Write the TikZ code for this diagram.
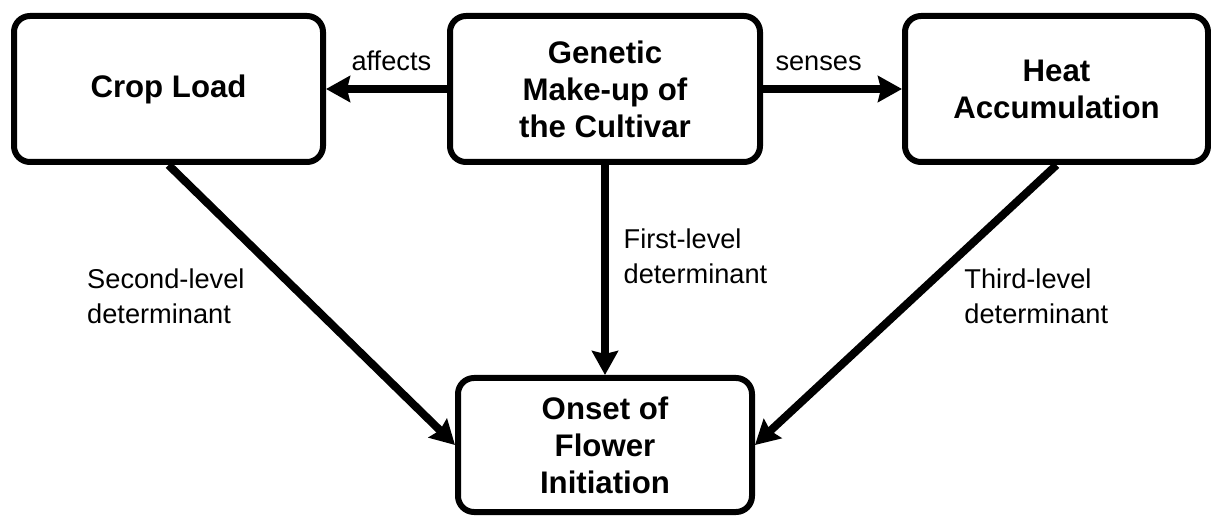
\documentclass[tikz,border=0pt]{standalone}
\usepackage{fontspec}
\setmainfont{Liberation Sans}
\usetikzlibrary{arrows.meta}

\tikzset{
  box/.style={draw, line width=3pt, rounded corners=8pt, align=center,
    font=\fontsize{15.6}{18.5}\selectfont\bfseries},
  link/.style={line width=4pt, -{Stealth[length=12pt,width=13pt,inset=1.5pt]}},
  lbl/.style={align=left, font=\fontsize{13.6}{17.5}\selectfont}
}

\begin{document}
\begin{tikzpicture}[x=0.5pt,y=-0.5pt]
  \useasboundingbox (0,0) rectangle (1211,518);

  \node[box, minimum width=154.5pt, minimum height=73pt] (crop) at (168.5,89) {Crop Load};
  \node[box, minimum width=155pt, minimum height=73pt] (gene) at (605,89) {Genetic\\Make-up of\\the Cultivar};
  \node[box, minimum width=151.5pt, minimum height=73pt] (heat) at (1056.5,89) {Heat\\Accumulation};
  \node[box, minimum width=147pt, minimum height=67pt] (onset) at (605,445) {Onset of\\Flower\\Initiation};

  \draw[link] (gene.west) -- node[lbl, pos=0.46, above=4pt] {affects} (crop.east);
  \draw[link] (gene.east) -- node[lbl, pos=0.4, above=4pt] {senses} (heat.west);
  \draw[link] (gene.south) -- node[lbl, pos=0.435, right=4pt] {First-level\\determinant} (onset.north);
  \draw[link] (crop.south) -- node[lbl, pos=0.47, left=24pt] {Second-level\\determinant} (onset.west);
  \draw[link] (heat.south) -- node[lbl, pos=0.47, right=19.5pt] {Third-level\\determinant} (onset.east);
\end{tikzpicture}
\end{document}
